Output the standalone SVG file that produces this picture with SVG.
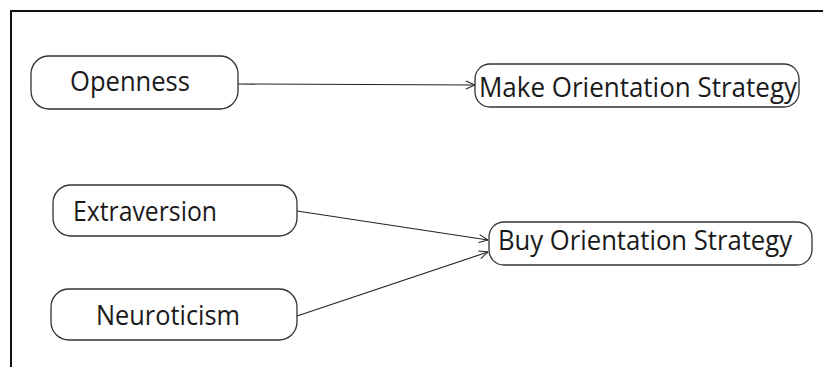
<svg xmlns="http://www.w3.org/2000/svg" width="823" height="367" viewBox="0 0 823 367">
  <defs>
    <marker id="open-arrow" viewBox="0 0 10 10" refX="10" refY="5" markerWidth="10" markerHeight="10" markerUnits="userSpaceOnUse" orient="auto">
      <path d="M1,1 L10,5 L1,9" fill="none" stroke="#222" stroke-width="1"/>
    </marker>
  </defs>
  <style>
    .frame { fill: none; stroke: #111; stroke-width: 2; }
    .box { fill: #fff; stroke: #333; stroke-width: 1.3; }
    .label { font-family: "Open Sans", "Noto Sans", sans-serif; font-size: 26.5px; fill: #1a1a1a; }
    .edge { fill: none; stroke: #222; stroke-width: 1.1; marker-end: url(#open-arrow); }
  </style>
  <rect width="823" height="367" fill="#fff"/>
  <!-- outer frame: only top and left edges fall inside the canvas -->
  <path class="frame" d="M11,367 L11,11 L823,11"/>

  <g id="connectors">
    <line class="edge" x1="238" y1="84" x2="475" y2="85"/>
    <line class="edge" x1="297" y1="211" x2="488" y2="240"/>
    <line class="edge" x1="297" y1="316" x2="488" y2="252"/>
  </g>

  <g id="openness">
    <rect class="box" x="31" y="56" width="207" height="53" rx="18"/>
    <text class="label" x="70" y="91" textLength="120" lengthAdjust="spacingAndGlyphs">Openness</text>
  </g>
  <g id="make-orientation">
    <rect class="box" x="475" y="64" width="324" height="43" rx="15"/>
    <text class="label" x="479" y="97" textLength="318" lengthAdjust="spacingAndGlyphs">Make Orientation Strategy</text>
  </g>
  <g id="extraversion">
    <rect class="box" x="53" y="185" width="244" height="51" rx="18"/>
    <text class="label" x="73" y="221" textLength="144" lengthAdjust="spacingAndGlyphs">Extraversion</text>
  </g>
  <g id="neuroticism">
    <rect class="box" x="51" y="289" width="246" height="51" rx="18"/>
    <text class="label" x="96" y="325" textLength="144" lengthAdjust="spacingAndGlyphs">Neuroticism</text>
  </g>
  <g id="buy-orientation">
    <rect class="box" x="489" y="222" width="323" height="43" rx="15"/>
    <text class="label" x="498" y="250" textLength="294" lengthAdjust="spacingAndGlyphs">Buy Orientation Strategy</text>
  </g>
</svg>
